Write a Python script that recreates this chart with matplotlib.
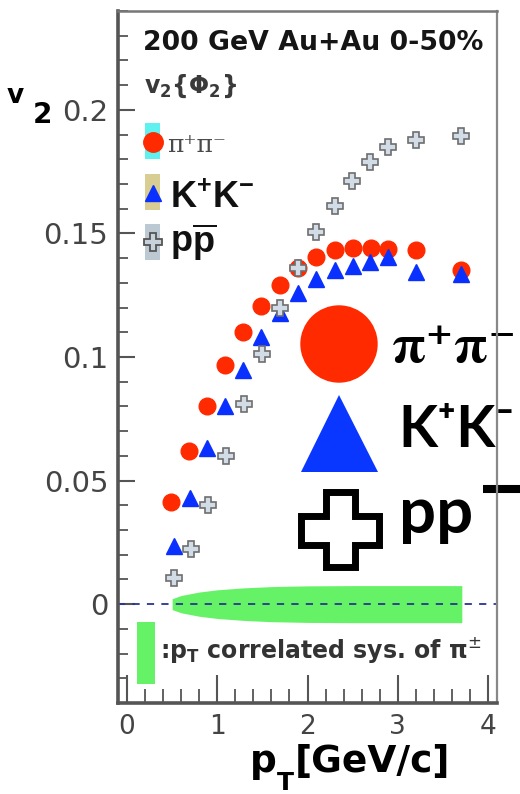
import numpy as np
import matplotlib.pyplot as plt
from matplotlib.patches import Circle, Polygon, Rectangle
from matplotlib.ticker import MultipleLocator, FuncFormatter

# v2 vs pT, 200 GeV Au+Au 0-50%
pt_pi = [0.49, 0.69, 0.89, 1.09, 1.29, 1.49, 1.69, 1.90, 2.09, 2.30, 2.50, 2.70, 2.89, 3.20, 3.70]
v2_pi = [0.0415, 0.062, 0.080, 0.0967, 0.110, 0.1206, 0.129, 0.136, 0.1406, 0.1434, 0.144, 0.144, 0.1437, 0.1434, 0.135]

pt_k = [0.52, 0.70, 0.89, 1.09, 1.29, 1.49, 1.69, 1.90, 2.09, 2.30, 2.50, 2.69, 2.89, 3.20, 3.70]
v2_k = [0.0234, 0.043, 0.063, 0.080, 0.0946, 0.108, 0.118, 0.126, 0.1316, 0.135, 0.1367, 0.1386, 0.1403, 0.1345, 0.1336]

pt_p = [0.52, 0.71, 0.90, 1.10, 1.30, 1.50, 1.69, 1.90, 2.09, 2.30, 2.49, 2.69, 2.89, 3.20, 3.70]
v2_p = [0.0106, 0.0225, 0.040, 0.060, 0.081, 0.1014, 0.120, 0.136, 0.1504, 0.161, 0.1712, 0.179, 0.185, 0.188, 0.1894]

# pT correlated systematic band of pi+-
band_pt = [0.5, 0.6, 0.8, 1.0, 1.3, 1.6, 2.0, 2.5, 3.0, 3.71]
band_sys = [0.0022, 0.0035, 0.0049, 0.0058, 0.0066, 0.0071, 0.0074, 0.0075, 0.0075, 0.0075]

plt.rcParams['mathtext.fontset'] = 'custom'
plt.rcParams['mathtext.bf'] = 'Liberation Sans:bold'
plt.rcParams['mathtext.rm'] = 'Liberation Sans'

W, H = 520, 794
fig = plt.figure(figsize=(W / 100, H / 100), dpi=100)

# pixel-space layer for the big labels
ov = fig.add_axes([0, 0, 1, 1], zorder=1)
ov.set_xlim(0, W)
ov.set_ylim(H, 0)
ov.axis('off')

ax = fig.add_axes([118 / W, 91 / H, 379 / W, 692 / H], zorder=2)
ax.set_facecolor('none')

band_pt = np.array(band_pt)
band_sys = np.array(band_sys)
ax.fill_between(band_pt, -band_sys, band_sys, color='#66f266', lw=0, zorder=1)
ax.axhline(0, color='#2a3590', lw=1.3, dashes=(4, 4), zorder=2)

ax.plot(pt_pi, v2_pi, 'o', ms=12, color='#ff2a00', mec='#ff2a00', zorder=3)
ax.plot(pt_k, v2_k, '^', ms=11, color='#0a30ff', mec='#0a30ff', zorder=4)
ax.plot(pt_p, v2_p, 'P', ms=12, mfc='#d2dce6', mec='#6e6e6e', mew=1.2, zorder=5)

ax.set_xlim(-0.1, 4.1)
ax.set_ylim(-0.04, 0.24)
ax.xaxis.set_major_locator(MultipleLocator(1))
ax.xaxis.set_minor_locator(MultipleLocator(0.2))
ax.yaxis.set_major_locator(MultipleLocator(0.05))
ax.yaxis.set_minor_locator(MultipleLocator(0.01))
ax.yaxis.set_major_formatter(FuncFormatter(lambda v, p: '%g' % round(v, 3)))
ax.tick_params(axis='both', which='both', direction='in', color='#555555',
               top=False, right=False, labelcolor='#444444')
ax.tick_params(axis='y', which='major', length=12, width=1.5, pad=7, labelsize=21)
ax.tick_params(axis='y', which='minor', length=7, width=1.3)
ax.tick_params(axis='x', which='major', length=20, width=1.5, pad=8, labelsize=19)
ax.tick_params(axis='x', which='minor', length=10, width=1.3)
for side, lw, c in [('left', 2.6, '#555555'), ('bottom', 2.6, '#555555'),
                    ('top', 1.8, '#777777'), ('right', 1.6, '#888888')]:
    ax.spines[side].set_linewidth(lw)
    ax.spines[side].set_color(c)

# header and legend
ax.text(0.066, 0.9436, '200 GeV Au+Au 0-50%', transform=ax.transAxes,
        fontsize=19.3, fontweight='bold', color='#151515', va='baseline')
ax.text(0.069, 0.882, r'$\mathbf{v_2\{\Phi_2\}}$', transform=ax.transAxes,
        fontsize=17, color='#3a3a3a', va='baseline', math_fontfamily='dejavusans')

kx = (145 - 118) / 379
kw = 15 / 379
for c, (y0, y1) in zip(['#5ff0f0', '#d8cd92', '#bcc9d2'], [(123, 159), (174, 210), (224, 260)]):
    ax.add_patch(Rectangle((kx, (703 - y1) / 692), kw, (y1 - y0) / 692,
                           transform=ax.transAxes, color=c, lw=0, zorder=3))
mx = kx + kw / 2
ax.plot(mx, (703 - 142) / 692, 'o', ms=14, color='#ff2a00', transform=ax.transAxes, zorder=4)
ax.plot(mx, (703 - 193) / 692, '^', ms=12, color='#0a30ff', transform=ax.transAxes, zorder=4)
ax.plot(mx, (703 - 242) / 692, 'P', ms=13, mfc='#c8d2da', mec='#555555', mew=1.3,
        transform=ax.transAxes, zorder=4)

ax.text((167 - 118) / 379, (703 - 152) / 692, 'π⁺π⁻', transform=ax.transAxes,
        fontsize=18, family='DejaVu Serif', color='#4a4a4a', va='baseline')
ax.text((170 - 118) / 379, (703 - 208) / 692, r'$\mathbf{K^{+}K^{-}}$', transform=ax.transAxes,
        fontsize=26, math_fontfamily='custom', color='#111111', va='baseline')
ax.text((170 - 118) / 379, (703 - 253) / 692, r'$\mathbf{p\overline{p}}$', transform=ax.transAxes,
        fontsize=26, math_fontfamily='custom', color='#111111', va='baseline')

# systematic band key
ax.add_patch(Rectangle((0.050, 0.0275), 0.0475, 0.09, transform=ax.transAxes,
                       color='#66f266', lw=0, zorder=3))
ax.text(0.111, 0.0766, r':p$_\mathbf{T}$ correlated sys. of π$^{\pm}$', transform=ax.transAxes,
        fontsize=17, fontweight='bold', color='#333333', va='center',
        math_fontfamily='dejavusans')

# big symbols on the right
ov.add_patch(Circle((339, 344), 38.7, color='#ff2a00', lw=0))
ov.add_patch(Polygon([(339, 395), (301, 472), (378, 472)], color='#0a37ff', lw=0))
cross = [(325.5, 491.5), (354.5, 491.5), (354.5, 515.5), (378.5, 515.5), (378.5, 544.5),
         (354.5, 544.5), (354.5, 566.5), (325.5, 566.5), (325.5, 544.5), (300.5, 544.5),
         (300.5, 515.5), (325.5, 515.5)]
ov.add_patch(Polygon(cross, closed=True, fc='white', ec='black', lw=5, joinstyle='miter'))

big = dict(family=['Lato', 'DejaVu Sans'], fontweight='bold', color='black')
ov.text(517, 362, 'π⁺π⁻', fontsize=39, family=['STIXGeneral', 'DejaVu Serif'],
        fontweight='bold', ha='right', va='baseline')
ov.text(398, 447, 'K⁺K⁻', fontsize=41, va='baseline', **big)
ov.text(399, 533, 'pp', fontsize=47, va='baseline', **big)
ov.plot([483, 522], [489, 489], color='black', lw=5.8, solid_capstyle='butt')

# axis titles
dv = dict(family='DejaVu Sans', fontweight='bold', color='black')
ov.text(7, 103, 'v', fontsize=19, va='baseline', **dv)
ov.text(33, 123, '2', fontsize=20, va='baseline', **dv)
ov.text(250, 772, 'p', fontsize=27, va='baseline', **dv)
ov.text(277, 790, 'T', fontsize=18, va='baseline', **dv)
ov.text(295, 772, '[GeV/c]', fontsize=27, va='baseline', **dv)

fig.savefig('out.png', dpi=100)
